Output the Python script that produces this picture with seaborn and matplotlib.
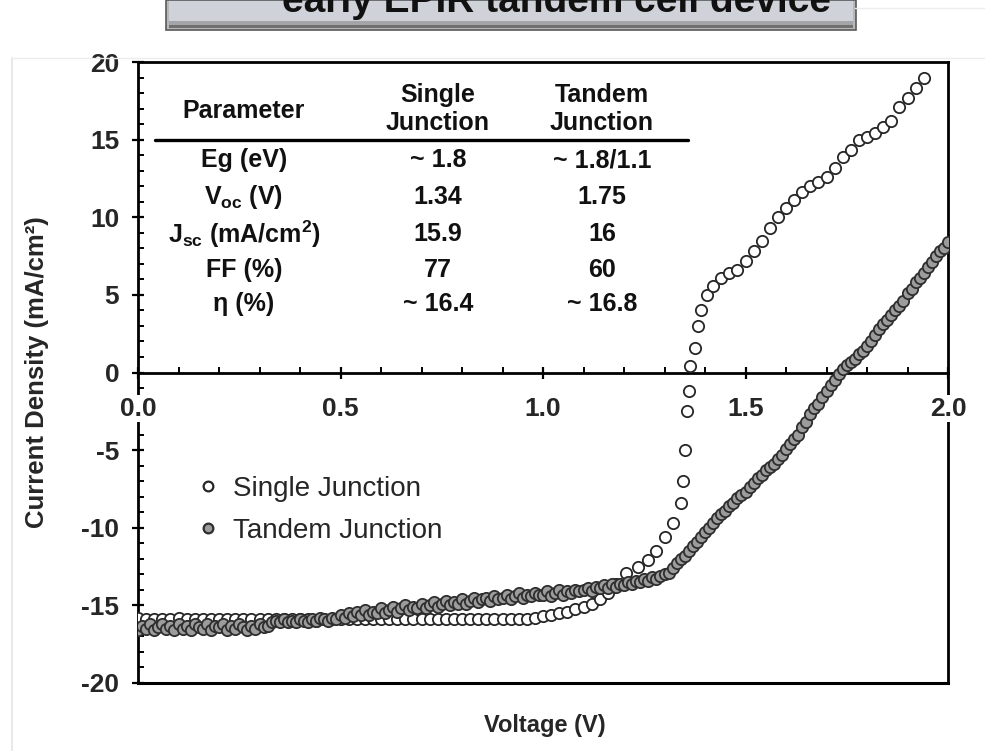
import numpy as np
import pandas as pd
import matplotlib
matplotlib.use("Agg")
import matplotlib.pyplot as plt
import seaborn as sns
from matplotlib.lines import Line2D
from matplotlib.patches import Rectangle
from matplotlib.ticker import MultipleLocator

# ---------------- data ----------------
single_v = [0.00, 0.02, 0.04, 0.06, 0.08, 0.10, 0.12, 0.14, 0.16, 0.18,
            0.20, 0.22, 0.24, 0.26, 0.28, 0.30, 0.32, 0.34, 0.36, 0.38,
            0.40, 0.42, 0.44, 0.46, 0.48, 0.50, 0.52, 0.54, 0.56, 0.58,
            0.60, 0.62, 0.64, 0.66, 0.68, 0.70, 0.72, 0.74, 0.76, 0.78,
            0.80, 0.82, 0.84, 0.86, 0.88, 0.90, 0.92, 0.94, 0.96, 0.98,
            1.00, 1.02, 1.04, 1.06, 1.08, 1.10, 1.12, 1.14, 1.16, 1.18,
            1.205, 1.235, 1.26, 1.28, 1.30, 1.32, 1.34, 1.345, 1.35, 1.355,
            1.36, 1.363, 1.375, 1.383, 1.39, 1.405, 1.42, 1.44, 1.46, 1.48,
            1.50, 1.52, 1.54, 1.56, 1.58, 1.60, 1.62, 1.64, 1.66, 1.68,
            1.70, 1.72, 1.74, 1.76, 1.78, 1.80, 1.82, 1.84, 1.86, 1.88,
            1.90, 1.92, 1.94]
single_j = [-15.8, -15.9, -15.9, -15.9, -15.9, -15.8, -15.9, -15.9, -15.9, -15.9,
            -15.9, -15.9, -15.9, -15.9, -15.9, -15.9, -15.9, -15.9, -15.9, -15.9,
            -15.9, -15.9, -16.0, -15.9, -15.9, -15.9, -15.9, -15.9, -15.9, -15.9,
            -15.9, -15.9, -15.9, -15.9, -15.9, -15.9, -15.9, -15.9, -15.9, -15.9,
            -15.9, -15.9, -15.9, -15.9, -15.9, -15.9, -15.9, -15.9, -15.85, -15.8,
            -15.7, -15.6, -15.5, -15.4, -15.25, -15.1, -14.9, -14.6, -14.2, -13.6,
            -12.9, -12.5, -12.1, -11.5, -10.6, -9.7, -8.4, -7.0, -5.0, -2.5,
            -1.2, 0.4, 1.55, 3.0, 4.0, 5.0, 5.6, 6.1, 6.4, 6.6,
            7.2, 7.8, 8.5, 9.3, 10.0, 10.6, 11.1, 11.6, 12.0, 12.3,
            12.6, 13.2, 13.9, 14.3, 15.0, 15.2, 15.4, 15.8, 16.2, 17.1,
            17.7, 18.3, 19.0]

tandem_v = [round(0.01 * i, 2) for i in range(201)]
tandem_j = [-16.6, -16.3, -16.5, -16.2, -16.6, -16.4, -16.2, -16.5, -16.3, -16.6,
            -16.2, -16.5, -16.3, -16.6, -16.2, -16.4, -16.5, -16.2, -16.6, -16.3,
            -16.4, -16.2, -16.6, -16.3, -16.5, -16.2, -16.4, -16.6, -16.3, -16.5,
            -16.2, -16.4, -16.3, -16.1, -16.0, -16.1, -15.9, -16.1, -16.0, -16.1,
            -15.9, -16.0, -16.1, -15.9, -16.0, -15.8, -15.9, -16.0, -15.8, -15.9,
            -15.6, -15.8, -15.5, -15.7, -15.4, -15.6, -15.3, -15.6, -15.4, -15.5,
            -15.2, -15.5, -15.3, -15.1, -15.4, -15.2, -15.0, -15.3, -15.1, -15.2,
            -14.9, -15.2, -15.0, -14.8, -15.1, -14.9, -14.7, -15.0, -14.8, -14.9,
            -14.6, -14.9, -14.7, -14.5, -14.8, -14.6, -14.5, -14.7, -14.4, -14.6,
            -14.5, -14.3, -14.6, -14.4, -14.2, -14.5, -14.3, -14.4, -14.2, -14.3,
            -14.3, -14.1, -14.4, -14.2, -14.0, -14.3, -14.1, -14.2, -14.0, -14.1,
            -14.0, -13.9, -14.1, -13.8, -13.9, -13.7, -13.9, -13.6, -13.8, -13.6,
            -13.7, -13.5, -13.6, -13.4, -13.5, -13.3, -13.4, -13.2, -13.3, -13.1,
            -13.0, -12.9, -12.6, -12.3, -12.0, -11.8, -11.5, -11.2, -10.9, -10.6,
            -10.3, -10.0, -9.7, -9.4, -9.1, -8.9, -8.6, -8.4, -8.1, -7.9,
            -7.7, -7.4, -7.1, -6.8, -6.6, -6.3, -6.1, -5.9, -5.6, -5.3,
            -4.9, -4.6, -4.3, -4.0, -3.5, -3.2, -2.7, -2.3, -2.0, -1.6,
            -1.2, -0.8, -0.5, -0.1, 0.2, 0.5, 0.7, 0.9, 1.2, 1.4,
            1.7, 2.0, 2.4, 2.8, 3.1, 3.4, 3.7, 4.0, 4.3, 4.6,
            5.1, 5.4, 5.8, 6.1, 6.4, 6.8, 7.1, 7.5, 7.8, 8.0,
            8.4]

series_names = ["Single Junction", "Tandem Junction"]
x_ticks = [0.0, 0.5, 1.0, 1.5, 2.0]
x_tick_labels = ["0.0", "0.5", "1.0", "1.5", "2.0"]
y_ticks = [-20, -15, -10, -5, 0, 5, 10, 15, 20]
y_tick_labels = ["-20", "-15", "-10", "-5", "0", "5", "10", "15", "20"]

table_header = ["Parameter", "Single\nJunction", "Tandem\nJunction"]
table_params = ["Eg (eV)", r"V$_{\mathregular{oc}}$ (V)",
                r"J$_{\mathregular{sc}}$ (mA/cm$^{\mathregular{2}}$)", "FF (%)", "η (%)"]
table_single = ["~ 1.8", "1.34", "15.9", "77", "~ 16.4"]
table_tandem = ["~ 1.8/1.1", "1.75", "16", "60", "~ 16.8"]

title_text = "early EPIR tandem cell device"

# ---------------- style ----------------
sns.set_theme(style="white")
plt.rcParams["font.family"] = ["Liberation Sans", "DejaVu Sans"]
plt.rcParams["mathtext.fontset"] = "custom"
plt.rcParams["mathtext.rm"] = "Liberation Sans:bold"
plt.rcParams["mathtext.default"] = "regular"

W, H = 985, 751
fig = plt.figure(figsize=(W / 100, H / 100), dpi=100)
fig.patch.set_facecolor("white")


def fx(x):
    return x / W


def fy(y):
    return 1 - y / H


ax = fig.add_axes([fx(138), fy(683), fx(948) - fx(138), fy(62) - fy(683)])
ax.set_facecolor("white")

df_s = pd.DataFrame({"V": single_v, "J": single_j})
df_t = pd.DataFrame({"V": tandem_v, "J": tandem_j})

sns.scatterplot(data=df_s, x="V", y="J", ax=ax, marker="o", s=66,
                color="white", edgecolor="#262626", linewidth=1.3,
                zorder=3, legend=False)
sns.scatterplot(data=df_t, x="V", y="J", ax=ax, marker="o", s=66,
                color="#9c9c9c", edgecolor="#2e2e2e", linewidth=1.3,
                zorder=3, legend=False)

ax.set_xlim(0, 2)
ax.set_ylim(-20, 20)
ax.set_xticks(x_ticks)
ax.set_xticklabels(x_tick_labels)
ax.set_yticks(y_ticks)
ax.set_yticklabels(y_tick_labels)
ax.xaxis.set_minor_locator(MultipleLocator(0.1))
ax.yaxis.set_minor_locator(MultipleLocator(1))

for side in ["left", "right", "top", "bottom"]:
    ax.spines[side].set_visible(True)
    ax.spines[side].set_color("black")
    ax.spines[side].set_linewidth(2)
ax.spines["bottom"].set_position(("data", 0))
ax.plot([0, 2], [-20, -20], color="black", lw=2.2, clip_on=False,
        solid_capstyle="projecting", zorder=2.5)

ax.tick_params(axis="both", which="major", direction="inout", length=9,
               width=1.6, color="black", labelsize=19, top=False, right=False,
               bottom=True, left=True)
ax.tick_params(axis="both", which="minor", direction="in", length=4.5,
               width=1.4, color="black", top=False, right=False,
               bottom=True, left=True)
ax.tick_params(axis="x", which="major", pad=13)
ax.tick_params(axis="y", which="major", pad=9)
for lab in ax.get_xticklabels():
    lab.set_fontweight("bold")
    lab.set_bbox(dict(facecolor="white", edgecolor="none", pad=1.0))
for lab in ax.get_yticklabels():
    lab.set_fontweight("bold")
ax.xaxis.set_zorder(3.5)

ax.set_xlabel("Voltage (V)", fontsize=17, fontweight="bold")
ax.set_ylabel("Current Density (mA/cm²)", fontsize=18.5, fontweight="bold")
ax.xaxis.set_label_coords(0.502, -0.05)
ax.yaxis.set_label_coords(-0.11, 0.50)

handles = [
    Line2D([], [], ls="", marker="o", markersize=7, mfc="white",
           mec="#262626", mew=1.6),
    Line2D([], [], ls="", marker="o", markersize=7, mfc="#9c9c9c",
           mec="#2e2e2e", mew=1.6),
]
ax.legend(handles, series_names, loc="upper left",
          bbox_to_anchor=(0.055, 0.352), frameon=False, fontsize=20,
          handletextpad=0.4, labelspacing=0.6, handlelength=1.0,
          borderaxespad=0)

# ---------------- table ----------------
col_x = [244, 438, 602]
tkw = dict(ha="center", va="center", fontsize=18, fontweight="bold",
           color="#111111")
fig.text(fx(col_x[0]), fy(111), table_header[0], **tkw)
fig.text(fx(col_x[1]), fy(109), table_header[1], linespacing=1.25, **tkw)
fig.text(fx(col_x[2]), fy(109), table_header[2], linespacing=1.25, **tkw)
fig.add_artist(Line2D([fx(155), fx(688)], [fy(140), fy(140)], color="black",
                      lw=2.4))
row_y = [160, 197, 234, 270, 304]
for i, yy in enumerate(row_y):
    fig.text(fx(col_x[0]), fy(yy), table_params[i], **tkw)
    fig.text(fx(col_x[1]), fy(yy), table_single[i], **tkw)
    fig.text(fx(col_x[2]), fy(yy), table_tandem[i], **tkw)

# ---------------- title banner (cut at top) ----------------
fig.add_artist(Line2D([fx(12), fx(12)], [fy(58), fy(751)], color="#e4e4e4", lw=1.2))
fig.add_artist(Line2D([fx(12), fx(985)], [fy(58), fy(58)], color="#ececec", lw=1.0))
fig.add_artist(Line2D([fx(855), fx(985)], [fy(8), fy(8)], color="#ececec", lw=1.0))
fig.add_artist(Rectangle((fx(166), fy(30)), fx(856) - fx(166), fy(0) - fy(30),
                         facecolor="#b8b8b8", edgecolor="none"))
fig.add_artist(Rectangle((fx(169), fy(21)), fx(853) - fx(169), fy(0) - fy(21),
                         facecolor="#cfd2d8", edgecolor="none"))
fig.add_artist(Rectangle((fx(169), fy(25)), fx(853) - fx(169), fy(21) - fy(25),
                         facecolor="#a3a5a8", edgecolor="none"))
fig.add_artist(Rectangle((fx(169), fy(28)), fx(853) - fx(169), fy(25) - fy(28),
                         facecolor="#707070", edgecolor="none"))
fig.add_artist(Rectangle((fx(166), fy(30)), fx(856) - fx(166), fy(0) - fy(30),
                         facecolor="none", edgecolor="#5a5a5a", lw=1.2))
fig.text(fx(557), fy(12), title_text, ha="center", va="baseline",
         fontsize=28, fontweight="bold", color="#111111")

fig.savefig("out.png", dpi=100, facecolor="white")
